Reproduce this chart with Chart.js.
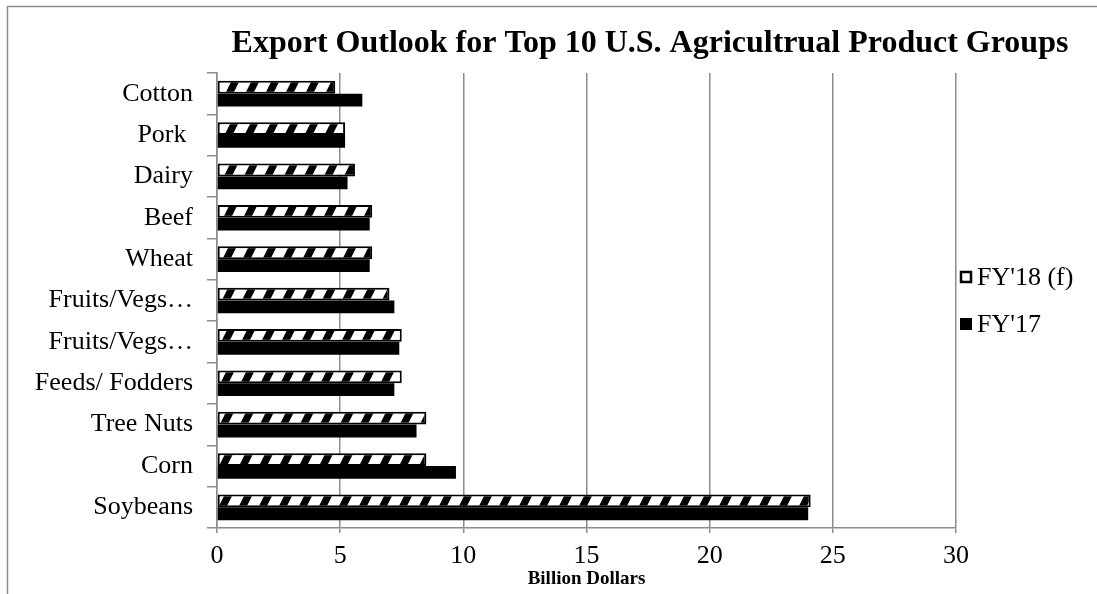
<!DOCTYPE html>
<html>
<head>
<meta charset="utf-8">
<script src="https://cdn.jsdelivr.net/npm/chart.js@4"></script>
<style>
  html, body { margin: 0; padding: 0; background: #fff; }
  canvas { display: block; }
</style>
</head>
<body>
<canvas id="chart" width="1097" height="594"></canvas>
<script>
const categories = ['Cotton', 'Pork ', 'Dairy', 'Beef', 'Wheat', 'Fruits/Vegs…', 'Fruits/Vegs…', 'Feeds/ Fodders', 'Tree Nuts', 'Corn', 'Soybeans'];
const fy18 = [4.8, 5.2, 5.6, 6.3, 6.3, 7.0, 7.5, 7.5, 8.5, 8.5, 24.1];
const fy17 = [5.9, 5.2, 5.3, 6.2, 6.2, 7.2, 7.4, 7.2, 8.1, 9.7, 24.0];
const seriesNames = ["FY'18 (f)", "FY'17"];
const xTicks = [0, 5, 10, 15, 20, 25, 30];

const FONT = '"Liberation Serif", "Times New Roman", serif';
const GRID = '#8c8c8c';

// white slanted stripes on black, like the excel pattern fill
function makeHatch() {
  const c = document.createElement('canvas');
  c.width = 20;
  c.height = 40;
  const g = c.getContext('2d');
  g.fillStyle = '#000';
  g.fillRect(0, 0, 20, 40);
  g.fillStyle = '#fff';
  for (let x0 = -40; x0 <= 20; x0 += 20) {
    g.beginPath();
    g.moveTo(x0, 40);
    g.lineTo(x0 + 12, 40);
    g.lineTo(x0 + 32, 0);
    g.lineTo(x0 + 20, 0);
    g.closePath();
    g.fill();
  }
  return g.createPattern(c, 'repeat');
}

const hatch = makeHatch();

const decor = {
  id: 'decor',
  beforeDraw(chart) {
    const ctx = chart.ctx;
    ctx.save();
    ctx.fillStyle = '#fff';
    ctx.fillRect(0, 0, chart.width, chart.height);
    ctx.strokeStyle = GRID;
    ctx.lineWidth = 1.5;
    ctx.strokeRect(7.5, 6.5, 2000, 2000);
    ctx.restore();
  },
  afterDraw(chart) {
    const ctx = chart.ctx;
    const area = chart.chartArea;
    ctx.save();
    // title
    ctx.fillStyle = '#000';
    ctx.font = 'bold 32px ' + FONT;
    ctx.textAlign = 'center';
    ctx.textBaseline = 'middle';
    ctx.fillText('Export Outlook for Top 10 U.S. Agricultrual Product Groups', 650, 44);

    // legend
    const mid = (area.top + area.bottom) / 2;
    ctx.font = '26px ' + FONT;
    ctx.textAlign = 'left';
    chart.data.datasets.forEach((ds, i) => {
      const y = mid + (i - 0.5) * 47;
      const bx = area.right + 4;
      ctx.fillStyle = ds.borderWidth ? '#fff' : ds.backgroundColor;
      ctx.fillRect(bx, y - 6, 12, 12);
      if (ds.borderWidth) {
        ctx.strokeStyle = '#000';
        ctx.lineWidth = 2.5;
        ctx.strokeRect(bx + 1, y - 5, 10, 10);
        ctx.fillStyle = '#000';
        ctx.beginPath();
        ctx.moveTo(bx, y + 6);
        ctx.lineTo(bx + 5, y + 6);
        ctx.lineTo(bx, y + 1);
        ctx.fill();
      }
      ctx.fillStyle = '#000';
      ctx.fillText(ds.label, bx + 17, y + 1);
    });
    ctx.restore();
  }
};

new Chart(document.getElementById('chart'), {
  type: 'bar',
  data: {
    labels: categories,
    datasets: [
      {
        label: seriesNames[0],
        data: fy18,
        backgroundColor: hatch,
        borderColor: '#000',
        borderWidth: 2,
        borderSkipped: false,
      },
      {
        label: seriesNames[1],
        data: fy17,
        backgroundColor: '#000',
        borderWidth: 0,
      },
    ],
  },
  options: {
    indexAxis: 'y',
    responsive: false,
    animation: false,
    barPercentage: 1,
    categoryPercentage: 0.62,
    layout: {
      padding: { top: 73, right: 141, bottom: 0, left: 0 },
    },
    plugins: {
      legend: { display: false },
      title: { display: false },
      tooltip: { enabled: false },
    },
    scales: {
      x: {
        min: 0,
        max: 30,
        afterBuildTicks(scale) {
          scale.ticks = xTicks.map((v) => ({ value: v }));
        },
        afterFit(scale) {
          scale.height = 66;
        },
        grid: {
          color: GRID,
          lineWidth: 1.5,
          drawTicks: true,
          tickLength: 5,
        },
        border: { color: GRID, width: 1.5 },
        ticks: {
          color: '#000',
          padding: 8,
          font: { family: FONT, size: 26 },
        },
        title: {
          display: true,
          text: 'Billion Dollars',
          color: '#000',
          font: { family: FONT, size: 19, weight: 'bold', lineHeight: 1 },
          padding: { top: 0, bottom: 5 },
        },
      },
      y: {
        afterFit(scale) {
          scale.width = 217;
        },
        grid: {
          drawOnChartArea: false,
          drawTicks: true,
          tickLength: 10,
          offset: true,
          color: GRID,
          lineWidth: 1.5,
        },
        border: { color: GRID, width: 1.5 },
        ticks: {
          color: '#000',
          padding: 14,
          font: { family: FONT, size: 26 },
        },
      },
    },
  },
  plugins: [decor],
});
</script>
</body>
</html>
